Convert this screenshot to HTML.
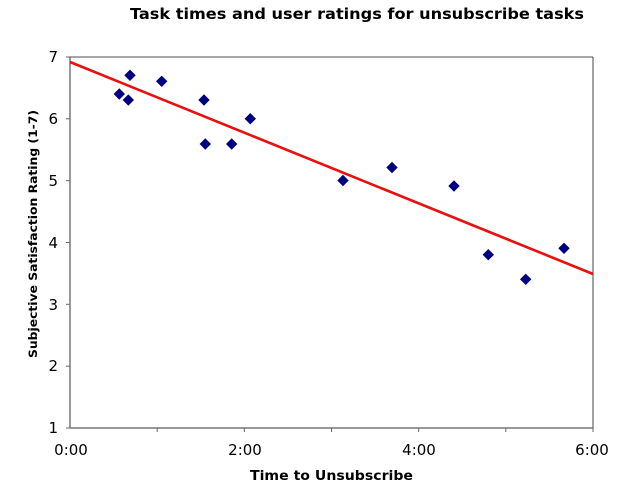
<!DOCTYPE html>
<html><head><meta charset="utf-8"><style>
html,body{margin:0;padding:0;background:#fff;}
svg{display:block;}
text{font-family:"DejaVu Sans","Liberation Sans",sans-serif;}
</style></head><body>
<svg width="630" height="490" viewBox="0 0 630 490" xmlns="http://www.w3.org/2000/svg">
<rect width="630" height="490" fill="#fff"/>
<text x="357" y="19" text-anchor="middle" font-size="15" font-weight="bold" fill="#000" textLength="454" lengthAdjust="spacingAndGlyphs">Task times and user ratings for unsubscribe tasks</text>
<!-- plot border -->
<line x1="70" y1="57" x2="593" y2="57" stroke="#888" stroke-width="1.5"/>
<line x1="593" y1="57" x2="593" y2="428" stroke="#444" stroke-width="1"/>
<line x1="70" y1="57" x2="70" y2="428" stroke="#333" stroke-width="1"/>
<line x1="70" y1="428" x2="593" y2="428" stroke="#777" stroke-width="1.5"/>
<!-- ticks -->
<g stroke="#666" stroke-width="1">
<line x1="66" y1="57" x2="70" y2="57"/>
<line x1="66" y1="118.8" x2="70" y2="118.8"/>
<line x1="66" y1="180.7" x2="70" y2="180.7"/>
<line x1="66" y1="242.5" x2="70" y2="242.5"/>
<line x1="66" y1="304.3" x2="70" y2="304.3"/>
<line x1="66" y1="366.2" x2="70" y2="366.2"/>
<line x1="66" y1="428" x2="70" y2="428"/>
<line x1="157.2" y1="428" x2="157.2" y2="432"/>
<line x1="244.3" y1="428" x2="244.3" y2="432"/>
<line x1="331.5" y1="428" x2="331.5" y2="432"/>
<line x1="418.7" y1="428" x2="418.7" y2="432"/>
<line x1="505.8" y1="428" x2="505.8" y2="432"/>
<line x1="593" y1="428" x2="593" y2="432"/>
</g>
<g font-size="15" fill="#000" text-anchor="end">
<text x="58" y="62">7</text>
<text x="58" y="124">6</text>
<text x="58" y="186">5</text>
<text x="58" y="248">4</text>
<text x="58" y="310">3</text>
<text x="58" y="371">2</text>
<text x="58" y="433">1</text>
</g>
<g font-size="15" fill="#000" text-anchor="middle">
<text x="71" y="455">0:00</text>
<text x="245" y="455">2:00</text>
<text x="419" y="455">4:00</text>
<text x="592" y="455">6:00</text>
</g>
<text x="331.5" y="480" text-anchor="middle" font-size="13" font-weight="bold" fill="#000" textLength="163" lengthAdjust="spacingAndGlyphs">Time to Unsubscribe</text>
<text transform="translate(37,234) rotate(-90)" text-anchor="middle" font-size="11.5" font-weight="bold" fill="#000" textLength="248" lengthAdjust="spacingAndGlyphs">Subjective Satisfaction Rating (1-7)</text>
<!-- trend line -->
<line x1="70" y1="62" x2="593" y2="274" stroke="#e81010" stroke-width="2.6"/>
<!-- points -->
<g fill="#000080">
<polygon points="119.3,88.3 125,94 119.3,99.7 113.6,94"/>
<polygon points="128.3,94.3 134,100 128.3,105.7 122.6,100"/>
<polygon points="130,69.6 135.7,75.3 130,81 124.3,75.3"/>
<polygon points="161.7,75.6 167.4,81.3 161.7,87 156,81.3"/>
<polygon points="204,94.3 209.7,100 204,105.7 198.3,100"/>
<polygon points="205.3,138.3 211,144 205.3,149.7 199.6,144"/>
<polygon points="231.7,138.3 237.4,144 231.7,149.7 226,144"/>
<polygon points="250.3,113 256,118.7 250.3,124.4 244.6,118.7"/>
<polygon points="343,174.8 348.7,180.5 343,186.2 337.3,180.5"/>
<polygon points="392,161.8 397.7,167.5 392,173.2 386.3,167.5"/>
<polygon points="454,180.3 459.7,186 454,191.7 448.3,186"/>
<polygon points="488.3,249 494,254.7 488.3,260.4 482.6,254.7"/>
<polygon points="525.7,273.6 531.4,279.3 525.7,285 520,279.3"/>
<polygon points="564,242.6 569.7,248.3 564,254 558.3,248.3"/>
</g>
</svg>
</body></html>
